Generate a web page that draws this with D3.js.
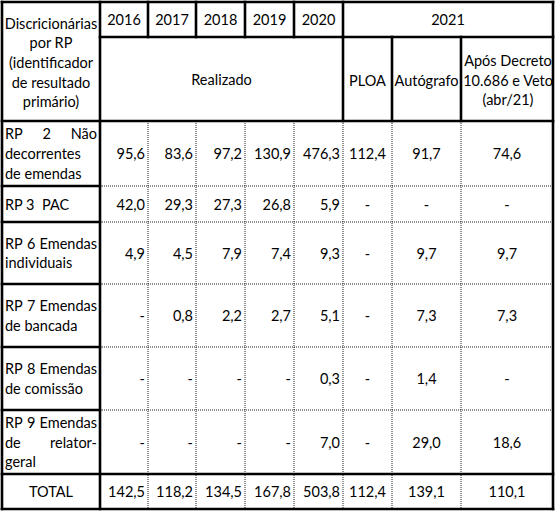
<!DOCTYPE html>
<html>
<head>
<meta charset="utf-8">
<script src="https://cdn.jsdelivr.net/npm/d3@7/dist/d3.min.js"></script>
<style>
  html, body { margin: 0; padding: 0; background: #fff; }
  svg { display: block; }
  text { font-family: Lato, "Open Sans", sans-serif; font-size: 14.5px; fill: #000; white-space: pre; }
</style>
</head>
<body>
<svg id="chart" width="556" height="512"></svg>
<script>
// ---------- DATA ----------
const headerLabel = ["Discricionárias", "por RP", "(identificador", "de resultado", "primário)"];
const years = ["2016", "2017", "2018", "2019", "2020"];
const realizadoLabel = "Realizado";
const year2021 = "2021";
const cols2021 = [["PLOA"], ["Autógrafo"], ["Após Decreto", "10.686 e Veto", "(abr/21)"]];
const rowLabels = [
  ["RP 2 Não", "decorrentes", "de emendas"],
  ["RP 3  PAC"],
  ["RP 6  Emendas", "individuais"],
  ["RP 7  Emendas", "de bancada"],
  ["RP 8  Emendas", "de comissão"],
  ["RP 9  Emendas", "de relator-", "geral"],
  ["TOTAL"]
];
const v2016 = [95.6, 42.0, 4.9, null, null, null, 142.5];
const v2017 = [83.6, 29.3, 4.5, 0.8, null, null, 118.2];
const v2018 = [97.2, 27.3, 7.9, 2.2, null, null, 134.5];
const v2019 = [130.9, 26.8, 7.4, 2.7, null, null, 167.8];
const v2020 = [476.3, 5.9, 9.3, 5.1, 0.3, 7.0, 503.8];
const vPLOA = [112.4, null, null, null, null, null, 112.4];
const vAutografo = [91.7, null, 9.7, 7.3, 1.4, 29.0, 139.1];
const vAposDecreto = [74.6, null, 9.7, 7.3, null, 18.6, 110.1];

// ---------- LAYOUT ----------
const svg = d3.select("#chart");
const colKeys = ["label", ...years, "PLOA", "Autografo", "Apos"];
const colEdges = [2, 100, 148, 196, 245, 294, 343, 392, 461, 553];
const xLeft = d3.scaleOrdinal().domain(colKeys).range(colEdges.slice(0, -1));
const xRight = d3.scaleOrdinal().domain(colKeys).range(colEdges.slice(1));
const rowKeys = ["h1", "h2", "r0", "r1", "r2", "r3", "r4", "r5", "r6"];
const rowEdges = [2, 37, 121, 186, 222, 284, 347, 410, 474, 509];
const yTop = d3.scaleOrdinal().domain(rowKeys).range(rowEdges.slice(0, -1));
const yBot = d3.scaleOrdinal().domain(rowKeys).range(rowEdges.slice(1));

const series = [v2016, v2017, v2018, v2019, v2020, vPLOA, vAutografo, vAposDecreto];
const seriesKeys = [...years, "PLOA", "Autografo", "Apos"];
const fmt = v => v == null ? "-" : d3.format(".1f")(v).replace(".", ",");

const lineH = 19.6;
const thick = 2.6;
const gLines = svg.append("g");
const gText = svg.append("g");

function solid(x1, y1, x2, y2) {
  gLines.append("line").attr("x1", x1).attr("y1", y1).attr("x2", x2).attr("y2", y2)
    .attr("stroke", "#000").attr("stroke-width", thick).attr("stroke-linecap", "square");
}
function dotted(x1, y1, x2, y2) {
  gLines.append("line").attr("x1", x1).attr("y1", y1).attr("x2", x2).attr("y2", y2)
    .attr("stroke", "#222").attr("stroke-width", 1).attr("stroke-dasharray", "1,1");
}

function multiline(lines, cx, cy, anchor) {
  const n = lines.length;
  lines.forEach((t, i) => {
    gText.append("text").attr("x", cx).attr("y", cy + (i - (n - 1) / 2) * lineH)
      .attr("text-anchor", anchor).attr("dominant-baseline", "central").text(t);
  });
}

// justified text for label column
function justified(lines, x0, x1, cy) {
  const n = lines.length;
  lines.forEach((line, i) => {
    const y = cy + (i - (n - 1) / 2) * lineH;
    const words = line.split(/\s+/);
    if (i === n - 1 || words.length < 2) {
      gText.append("text").attr("x", x0).attr("y", y).attr("dominant-baseline", "central").text(line);
      return;
    }
    const nodes = words.map(w => gText.append("text").attr("y", y).attr("dominant-baseline", "central").text(w));
    const widths = nodes.map(nd => nd.node().getComputedTextLength());
    const total = d3.sum(widths);
    const gap = Math.max(3, (x1 - x0 - total) / (words.length - 1));
    let x = x0;
    nodes.forEach((nd, k) => { nd.attr("x", x); x += widths[k] + gap; });
  });
}

// ---------- TEXT ----------
multiline(headerLabel, (xLeft("label") + xRight("label")) / 2, (yTop("h1") + yBot("h2")) / 2 + 1, "middle");
years.forEach(y => multiline([y], (xLeft(y) + xRight(y)) / 2, (yTop("h1") + yBot("h1")) / 2, "middle"));
multiline([year2021], (xLeft("PLOA") + xRight("Apos")) / 2, (yTop("h1") + yBot("h1")) / 2, "middle");
multiline([realizadoLabel], (xLeft("2016") + xRight("2020")) / 2, (yTop("h2") + yBot("h2")) / 2, "middle");
["PLOA", "Autografo", "Apos"].forEach((k, i) =>
  multiline(cols2021[i], (xLeft(k) + xRight(k)) / 2 + (k === "Apos" ? 1 : 0), (yTop("h2") + yBot("h2")) / 2 + 1, "middle"));

rowLabels.forEach((lines, r) => {
  const rk = "r" + r;
  const cy = (yTop(rk) + yBot(rk)) / 2;
  if (r === rowLabels.length - 1) {
    multiline(lines, (xLeft("label") + xRight("label")) / 2, cy, "middle");
  } else {
    justified(lines, xLeft("label") + 3, xRight("label") - 3, cy);
  }
});

series.forEach((vals, c) => {
  const k = seriesKeys[c];
  const centered = c >= 5;
  vals.forEach((v, r) => {
    const rk = "r" + r;
    const cy = (yTop(rk) + yBot(rk)) / 2;
    if (centered) multiline([fmt(v)], (xLeft(k) + xRight(k)) / 2, cy, "middle");
    else multiline([fmt(v)], xRight(k) - 3, cy, "end");
  });
});

// ---------- GRID ----------
const bodyTop = yTop("r0");
colEdges.slice(2, -1).forEach(x => dotted(x, bodyTop, x, yBot("r6")));
rowEdges.slice(3, 8).forEach(y => dotted(xRight("label"), y, colEdges[colEdges.length - 1], y));
rowEdges.slice(3, 8).forEach(y => solid(colEdges[0], y, xRight("label"), y));
solid(xRight("label"), yBot("h1"), colEdges[colEdges.length - 1], yBot("h1"));
colEdges.slice(2, 7).forEach(x => solid(x, yTop("h1"), x, yBot("h1")));
[xLeft("PLOA"), xLeft("Autografo"), xLeft("Apos")].forEach(x => solid(x, yTop("h2"), x, yBot("h2")));
solid(colEdges[0], yBot("h2"), colEdges[colEdges.length - 1], yBot("h2"));
solid(colEdges[0], yTop("r6"), colEdges[colEdges.length - 1], yTop("r6"));
solid(xRight("label"), yTop("h1"), xRight("label"), yBot("r6"));
const L = colEdges[0], R = colEdges[colEdges.length - 1], T = rowEdges[0], B = rowEdges[rowEdges.length - 1];
solid(L, T, R, T); solid(L, B, R, B); solid(L, T, L, B); solid(R, T, R, B);
</script>
</body>
</html>
